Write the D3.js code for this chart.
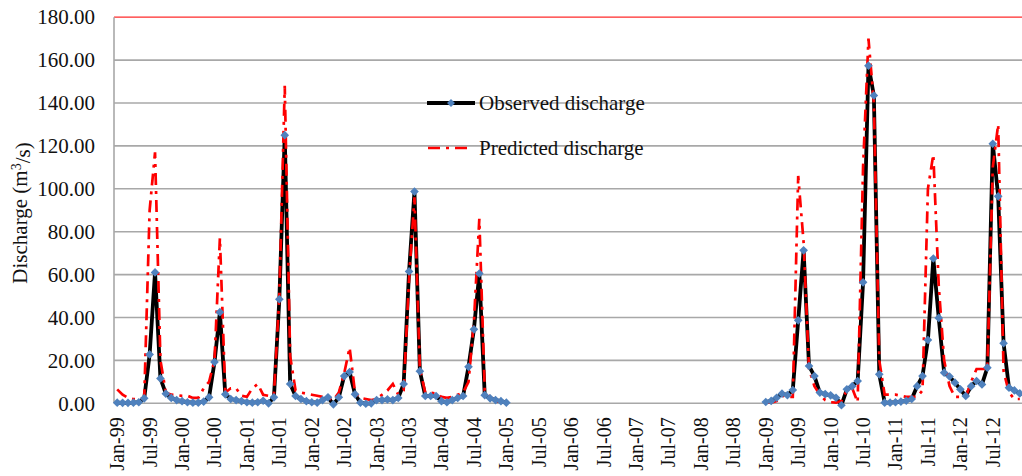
<!DOCTYPE html>
<html>
<head>
<meta charset="utf-8">
<script src="https://cdn.jsdelivr.net/npm/d3@7"></script>
<style>
  html, body { margin: 0; padding: 0; background: #fff; }
  svg { display: block; }
  text { font-family: "Liberation Serif", "Times New Roman", serif; fill: #111; }
</style>
</head>
<body>
<svg id="chart" width="1022" height="476"></svg>
<script>
// Monthly discharge, two recording periods (Jan-99..Jan-05 and Jan-09..Dec-12)
const observed1999to2005 = [
  0.3, 0.2, 0.2, 0.3, 0.5, 2.3, 22.8, 61.0, 11.6, 4.5, 2.5, 1.5,
  1.0, 0.5, 0.3, 0.3, 0.8, 2.8, 19.2, 42.5, 4.2, 2.0, 1.5, 1.0,
  0.5, 0.3, 0.5, 1.2, 0.0, 2.8, 48.5, 125.0, 9.0, 3.4, 2.0, 1.0,
  0.5, 0.3, 1.5, 2.8, -0.5, 2.8, 12.7, 14.6, 4.2, 0.3, -0.2, 0.0,
  1.5, 1.5, 1.8, 1.5, 2.5, 9.0, 61.5, 98.7, 15.0, 3.4, 3.4, 3.4,
  1.0, 0.5, 1.5, 2.5, 3.4, 17.0, 34.5, 60.5, 3.8, 2.3, 1.5, 1.0,
  0.3
];
const predicted1999to2005 = [
  6.5, 4.0, 2.5, 2.0, 2.0, 2.5, 90.0, 117.0, 20.0, 5.0, 4.0, 3.8,
  3.5, 3.5, 2.5, 2.5, 7.0, 10.0, 20.0, 77.0, 5.0, 7.0, 7.0, 3.5,
  3.0, 7.0, 9.0, 4.0, 3.5, 4.0, 50.0, 148.0, 22.0, 6.0, 5.0, 4.5,
  4.0, 3.5, 3.0, 2.5, 1.5, 5.0, 14.0, 26.0, 5.0, 2.5, 2.0, 1.5,
  2.0, 4.0, 6.0, 9.0, 4.0, 6.0, 58.0, 96.0, 16.0, 5.0, 5.0, 4.5,
  3.0, 2.5, 3.0, 4.0, 5.0, 10.0, 38.0, 86.0, 6.0, 3.0, 1.0, 0.5,
  0.0
];
const observed2009to2012 = [
  0.6, 1.1, 2.6, 4.5, 3.8, 6.2, 38.7, 71.3, 17.4, 12.7, 5.0, 4.3,
  3.7, 2.6, -0.9, 6.5, 8.0, 10.4, 56.4, 157.4, 143.5, 13.5, 0.3, 0.3,
  0.5, 0.8, 1.2, 2.0, 8.0, 12.7, 29.5, 67.5, 39.8, 14.3, 12.5, 9.6,
  6.5, 3.4, 8.0, 10.4, 8.8, 16.6, 121.0, 96.5, 28.0, 7.3, 6.0, 4.6
];
const predicted2009to2012 = [
  0.5, 0.3, 1.0, 3.5, 3.0, 3.0, 106.0, 75.0, 16.0, 8.0, 4.0, 1.5,
  0.5, 0.3, 1.0, 6.0, 7.0, 0.5, 110.0, 170.0, 140.0, 20.0, 4.0, 4.0,
  4.0, 3.5, 3.0, 3.0, 3.0, 6.0, 100.0, 116.0, 55.0, 20.0, 8.0, 3.0,
  3.0, 3.0, 10.0, 16.0, 16.0, 16.0, 110.0, 130.0, 15.0, 5.0, 2.0, 2.0
];

const firstPeriodStart = "Jan-99";
const secondPeriodStart = "Jan-09";

const tickLabels = [
  "Jan-99","Jul-99","Jan-00","Jul-00","Jan-01","Jul-01","Jan-02","Jul-02",
  "Jan-03","Jul-03","Jan-04","Jul-04","Jan-05","Jul-05","Jan-06","Jul-06",
  "Jan-07","Jul-07","Jan-08","Jul-08","Jan-09","Jul-09","Jan-10","Jul-10",
  "Jan-11","Jul-11","Jan-12","Jul-12"
];
const yTicks = [0, 20, 40, 60, 80, 100, 120, 140, 160, 180];

const seriesNames = ["Observed discharge", "Predicted discharge"];

// Monthly categories Jan-99 .. Dec-12
const fmtMonth = d3.timeFormat("%b-%y");
const categories = d3.timeMonths(new Date(1999, 0, 1), new Date(2013, 0, 1)).map(fmtMonth);

function buildSeries(partA, partB) {
  const i0 = categories.indexOf(firstPeriodStart);
  const i1 = categories.indexOf(secondPeriodStart);
  return categories.map((m, i) => {
    let v = null;
    if (i >= i0 && i - i0 < partA.length) v = partA[i - i0];
    if (i >= i1 && i - i1 < partB.length) v = partB[i - i1];
    return { m, v };
  });
}
const observed = buildSeries(observed1999to2005, observed2009to2012);
const predicted = buildSeries(predicted1999to2005, predicted2009to2012);

const svg = d3.select("#chart");
const plotLeft = 114, plotRight = 1022;

const x = d3.scaleBand().domain(categories).range([114.5, 1022.5]).padding(0);
const bw = x.bandwidth();
const cx = m => x(m) + bw / 2;
const y = d3.scaleLinear().domain([0, 180]).range([403.3, 17.2]);

// Horizontal gridlines; the top one is drawn in red
svg.append("g").selectAll("line").data(yTicks).join("line")
  .attr("x1", plotLeft).attr("x2", plotRight)
  .attr("y1", d => y(d)).attr("y2", d => y(d))
  .attr("stroke", d => d === 180 ? "#ff2a2a" : "#a8a8a8")
  .attr("stroke-width", d => d === 180 ? 1.3 : 1.6);

// Left axis line
svg.append("line")
  .attr("x1", plotLeft).attr("x2", plotLeft)
  .attr("y1", y(180)).attr("y2", y(0))
  .attr("stroke", "#a8a8a8").attr("stroke-width", 1.6);

// Y axis labels
const gy = svg.append("g").attr("transform", `translate(${plotLeft},0)`)
  .call(d3.axisLeft(y).tickValues(yTicks).tickFormat(d3.format(".2f")).tickSize(0).tickPadding(19));
gy.select(".domain").remove();
gy.selectAll("text")
  .style("font-family", '"Liberation Serif", "Times New Roman", serif')
  .style("font-size", "21px").attr("fill", "#111");

// X axis labels, rotated
const gx = svg.append("g").attr("transform", `translate(0,${y(0)})`)
  .call(d3.axisBottom(x).tickValues(tickLabels).tickSize(0));
gx.select(".domain").remove();
gx.selectAll("text")
  .attr("transform", "rotate(-90)")
  .attr("text-anchor", "end")
  .attr("x", -14).attr("y", 0).attr("dy", "0.35em")
  .style("font-family", '"Liberation Serif", "Times New Roman", serif')
  .style("font-size", "20px").attr("fill", "#111");

// Y title
const yTitle = svg.append("text")
  .attr("transform", "translate(27,213) rotate(-90)")
  .attr("text-anchor", "middle")
  .style("font-size", "21px");
yTitle.append("tspan").text("Discharge (m");
yTitle.append("tspan").attr("dy", "-0.45em").style("font-size", "14px").text("3");
yTitle.append("tspan").attr("dy", "0.45em").text("/s)");

const line = d3.line()
  .defined(d => d.v !== null)
  .x(d => cx(d.m))
  .y(d => y(d.v));

// Observed line
svg.append("path").datum(observed)
  .attr("fill", "none").attr("stroke", "#000").attr("stroke-width", 3.8)
  .attr("stroke-linejoin", "round")
  .attr("d", line);

// Predicted line (long dash - dot)
const dashPattern = "12,6,3,6";
svg.append("path").datum(predicted)
  .attr("fill", "none").attr("stroke", "#ff0000").attr("stroke-width", 2.7)
  .attr("stroke-dasharray", dashPattern)
  .attr("d", line);

// Observed markers
const diamond = d3.symbol().type(d3.symbolDiamond2).size(48);
svg.append("g").selectAll("path").data(observed.filter(d => d.v !== null)).join("path")
  .attr("d", diamond)
  .attr("transform", d => `translate(${cx(d.m)},${y(d.v)})`)
  .attr("fill", "#4f81bd");

// Legend
const legend = svg.append("g");
legend.append("line").attr("x1", 427).attr("x2", 475).attr("y1", 103).attr("y2", 103)
  .attr("stroke", "#000").attr("stroke-width", 3.8);
legend.append("path").attr("d", d3.symbol().type(d3.symbolDiamond2).size(40)).attr("transform", "translate(451,103)").attr("fill", "#4f81bd");
legend.append("text").attr("x", 479).attr("y", 103).attr("dy", "0.33em")
  .style("font-size", "21px").text(seriesNames[0]);
legend.append("line").attr("x1", 428).attr("x2", 470).attr("y1", 148).attr("y2", 148)
  .attr("stroke", "#ff0000").attr("stroke-width", 2.7).attr("stroke-dasharray", dashPattern);
legend.append("text").attr("x", 479).attr("y", 148).attr("dy", "0.33em")
  .style("font-size", "21px").text(seriesNames[1]);
</script>
</body>
</html>
